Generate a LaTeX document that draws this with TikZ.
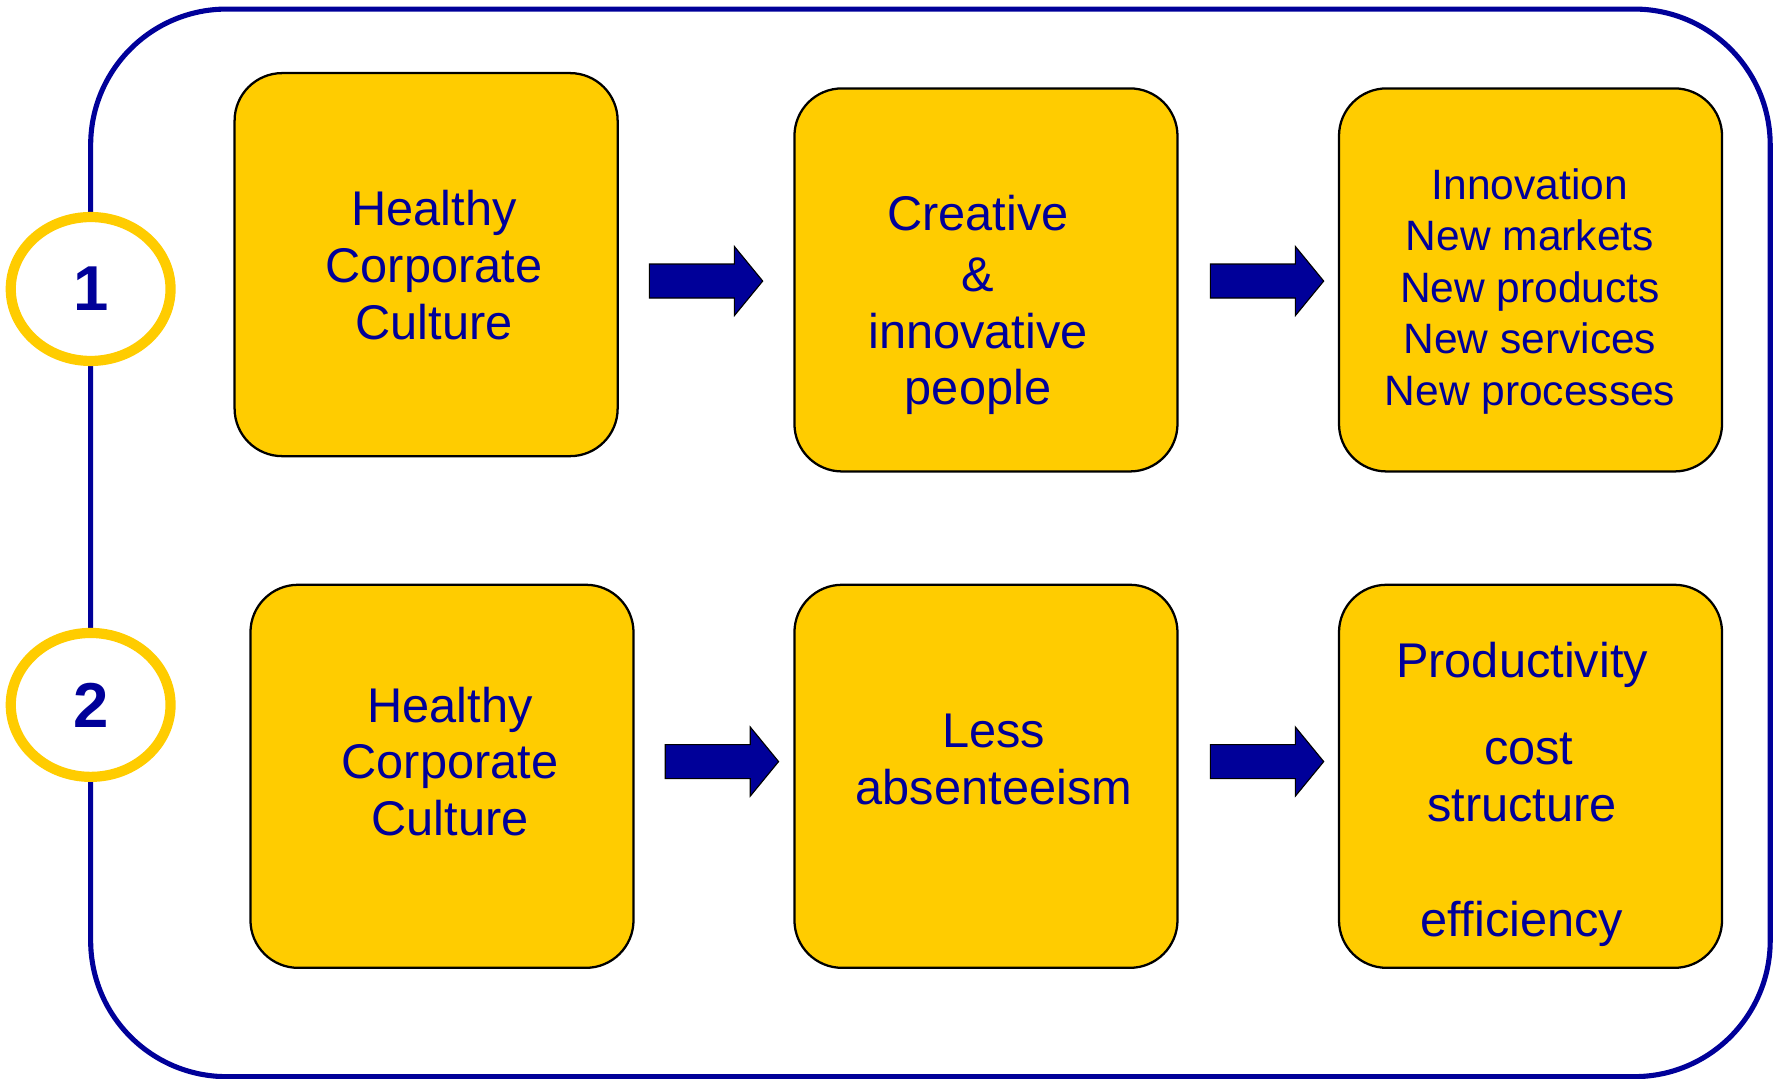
\documentclass[tikz,border=0pt]{standalone}
\usepackage{fontspec}
\setmainfont{Liberation Sans}
\usetikzlibrary{shapes.geometric}
\definecolor{navy}{HTML}{000099}
\definecolor{gold}{HTML}{FFCC00}
\newcommand\blockarr[3]{%
  \coordinate (#1) at (#2,#3);
  \path[barrow] (#1) ++(-50,-15) -- ++(75,0) -- ++(0,-15.5) -- ++(25,30.5) -- ++(-25,30.5) -- ++(0,-15.5) -- ++(-75,0) -- cycle;}
\begin{document}
\begin{tikzpicture}[x=1pt,y=-1pt,
  card/.style={draw=black,line width=2pt,fill=gold,rounded corners=42pt,minimum width=338pt,minimum height=338pt,inner sep=0pt},
  txt/.style={text=navy,align=center,font=\fontsize{43}{50}\selectfont,inner sep=0pt},
  smalltxt/.style={text=navy,align=center,font=\fontsize{37.5}{45.5}\selectfont,inner sep=0pt},
  ring/.style={ellipse,draw=gold,line width=9pt,fill=white,minimum width=141pt,minimum height=127pt,inner sep=0pt,text=navy,font=\fontsize{56}{60}\selectfont\bfseries},
  barrow/.style={fill=navy,draw=black,line width=1pt},
  frame/.style={draw=navy,line width=4.5pt,rounded corners=120pt}]
\useasboundingbox (0,0) rectangle (1568,952);
\draw[frame] (80,8) rectangle (1562,950);
\node[ring] (c1) at (80,255) {1};
\node[ring] (c2) at (80,622) {2};
% row 1
\node[card] (A) at (376,233.5) {};
\node[card] (B) at (870,247) {};
\node[card] (C) at (1350.5,247) {};
% row 2
\node[card] (D) at (390,685) {};
\node[card] (E) at (870,685) {};
\node[card] (F) at (1350.5,685) {};
% texts
\node[txt] (tA) at (383,234) {Healthy\\Corporate\\Culture};
\node[txt] (tB) at (863,269) {Creative\\[4pt]\&\\innovative\\people};
\node[smalltxt] (tC) at (1350,257) {Innovation\\New markets\\New products\\New services\\New processes};
\node[txt] (tD) at (397,672) {Healthy\\Corporate\\Culture};
\node[txt] (tE) at (877,670) {Less\\absenteeism};
\node[txt] (tF) at (1343,701) {Productivity\\[27pt]\ cost\\structure\\[52pt]efficiency};
% arrows
\blockarr{a1}{623}{248}
\blockarr{a2}{1118}{248}
\blockarr{a3}{637}{672}
\blockarr{a4}{1118}{672}
\end{tikzpicture}
\end{document}
